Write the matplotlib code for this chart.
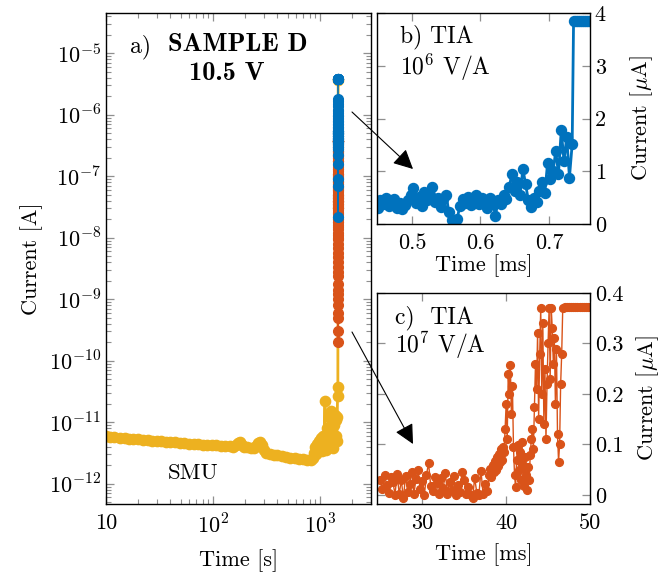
import numpy as np
import matplotlib.pyplot as plt
from matplotlib.patches import FancyArrowPatch
from matplotlib.ticker import FixedLocator, FixedFormatter, LogLocator, NullFormatter

# SMU trace (time in s, current in pA)
smu_time_s = [10, 11, 12, 13.5, 15, 16.5, 18, 20, 22, 24.5, 27, 30, 33, 36, 40, 44, 49, 54,
              60, 66, 73, 80, 88, 97, 107, 118, 130, 143, 155, 165, 172, 178, 185, 195, 210,
              225, 240, 255, 265, 275, 285, 298, 315, 340, 370, 400, 440, 480, 530, 580, 640,
              700, 760, 820, 860, 880, 900, 920, 940, 960, 980, 1000, 1020, 1040, 1060, 1080,
              1100, 1114, 1120, 1140, 1160, 1180, 1200, 1220, 1240, 1260, 1280, 1300, 1320,
              1340, 1360, 1380, 1400, 1420, 1440, 1450, 1460, 1470, 1480]
smu_current_pA = [5.9, 5.8, 5.75, 5.65, 5.55, 5.45, 5.4, 5.3, 5.2, 5.15, 5.05, 5.0, 4.9, 4.85,
                  4.75, 4.7, 4.6, 4.55, 4.5, 4.45, 4.4, 4.35, 4.3, 4.25, 4.2, 4.15, 4.1, 4.05,
                  4.0, 4.2, 4.6, 4.7, 4.3, 3.95, 3.9, 3.85, 3.8, 4.1, 4.6, 4.8, 4.3, 3.5, 3.2,
                  3.05, 2.95, 2.9, 2.8, 2.75, 2.65, 2.6, 2.55, 2.5, 2.45, 2.4, 2.6, 3.2, 4.0,
                  3.0, 4.5, 3.6, 5.0, 4.2, 5.5, 3.4, 6.0, 4.5, 5.2, 22, 5.0, 3.5, 8.0, 4.0, 6.5,
                  12, 4.5, 15, 7, 10, 3.8, 9, 5.5, 13, 6, 11, 5, 12, 27, 38, 3.6e6]

# time of the breakdown on the SMU time axis
breakdown_time_s = 1480

# TIA 1e6 V/A trace (time in ms, current in uA)
tia6_time_ms = [0.450, 0.454, 0.458, 0.462, 0.466, 0.470, 0.474, 0.478, 0.482, 0.486,
                0.490, 0.494, 0.498, 0.502, 0.506, 0.510, 0.514, 0.518, 0.522, 0.526,
                0.530, 0.534, 0.538, 0.542, 0.546, 0.550, 0.554, 0.558, 0.562, 0.566,
                0.570, 0.574, 0.578, 0.582, 0.586, 0.590, 0.594, 0.598, 0.602, 0.606,
                0.610, 0.614, 0.618, 0.622, 0.626, 0.630, 0.634, 0.638, 0.642, 0.646,
                0.650, 0.654, 0.658, 0.662, 0.666, 0.670, 0.674, 0.678, 0.682, 0.686,
                0.690, 0.694, 0.698, 0.702, 0.706, 0.710, 0.714, 0.718, 0.722, 0.726,
                0.730, 0.734, 0.736, 0.739, 0.742, 0.745, 0.748, 0.751, 0.754, 0.757,
                0.760, 0.763]
tia6_current_uA = [0.30, 0.45, 0.38, 0.50, 0.35, 0.42, 0.48, 0.30, 0.40, 0.28,
                   0.36, 0.45, 0.55, 0.68, 0.40, 0.52, 0.35, 0.60, 0.45, 0.55,
                   0.70, 0.42, 0.50, 0.32, 0.48, 0.55, 0.22, 0.07, 0.022, 0.09,
                   0.35, 0.48, 0.40, 0.52, 0.36, 0.45, 0.55, 0.38, 0.50, 0.42,
                   0.30, 0.50, 0.40, 0.16, 0.45, 0.38, 0.55, 0.48, 0.70, 0.95,
                   0.62, 0.80, 0.55, 1.05, 0.75, 0.45, 0.33, 0.50, 0.42, 0.62,
                   0.80, 0.58, 1.15, 0.85, 1.00, 1.38, 0.95, 1.78, 1.20, 1.65,
                   0.88, 1.52, 3.84, 3.84, 3.84, 3.84, 3.84, 3.84, 3.84, 3.84,
                   3.84, 3.84]

# TIA 1e7 V/A trace (time in ms, current in uA)
tia7_time_ms = [25.00, 25.25, 25.50, 25.75, 26.00, 26.25, 26.50, 26.75, 27.00, 27.25,
                27.50, 27.75, 28.00, 28.25, 28.50, 28.75, 29.00, 29.25, 29.50, 29.75,
                30.00, 30.25, 30.50, 30.75, 31.00, 31.25, 31.50, 31.75, 32.00, 32.25,
                32.50, 32.75, 33.00, 33.25, 33.50, 33.75, 34.00, 34.25, 34.50, 34.75,
                35.00, 35.25, 35.50, 35.75, 36.00, 36.25, 36.50, 36.75, 37.00, 37.25,
                37.50, 37.75,
                38.000, 38.125, 38.250, 38.375, 38.500, 38.625, 38.750, 38.875, 39.000, 39.125,
                39.250, 39.375, 39.500, 39.625, 39.750, 39.875, 40.000, 40.125, 40.250, 40.375,
                40.500, 40.625, 40.750, 40.875, 41.000, 41.125, 41.250, 41.375, 41.500, 41.625,
                41.750, 41.875, 42.000, 42.125, 42.250, 42.375, 42.500, 42.625, 42.750, 42.875,
                43.000, 43.125, 43.250, 43.375, 43.500, 43.625, 43.750, 43.875, 44.000, 44.125,
                44.250, 44.375, 44.500, 44.625, 44.750, 44.875, 45.000, 45.125, 45.250, 45.375,
                45.500, 45.625, 45.750, 45.875, 46.000, 46.125, 46.250, 46.375, 46.500, 46.625,
                46.750,
                47.00, 47.25, 47.50, 47.75, 48.00, 48.25, 48.50, 48.75, 49.00, 49.25,
                49.50, 49.75, 50.00]
tia7_current_uA = [0.030, 0.012, 0.040, 0.020, 0.0033, 0.035, 0.025, 0.0008, 0.042, 0.0010,
                   0.030, -0.007, 0.038, 0.0057, 0.022, 0.045, 0.0018, 0.032, 0.050, 0.0110,
                   0.028, 0.0005, 0.040, 0.063, 0.018, 0.0068, 0.036, 0.024, 0.0012, 0.033,
                   0.014, 0.044, 0.0028, 0.026, 0.0095, 0.038, 0.0002, 0.020, 0.0048, 0.046,
                   0.030, 0.0024, 0.016, 0.0006, -0.006, 0.034, 0.0040, 0.0003, 0.048, 0.0014,
                   0.022, 0.0080,
                   0.040, 0.052, 0.035, 0.060, 0.045, 0.068, 0.050, 0.075, 0.058, 0.082,
                   0.065, 0.090, 0.070, 0.095, 0.085, 0.130, 0.180, 0.110, 0.240, 0.200,
                   0.257, 0.160, 0.215, 0.095, 0.040, 0.015, 0.070, 0.098, 0.050, 0.085,
                   0.030, 0.105, 0.060, 0.018, 0.075, 0.040, 0.010, 0.055, 0.030, 0.080,
                   0.110, 0.130, 0.090, 0.175, 0.260, 0.210, 0.320, 0.150, 0.280, 0.370,
                   0.200, 0.340, 0.140, 0.250, 0.110, 0.220, 0.300, 0.370, 0.230, 0.370,
                   0.330, 0.260, 0.310, 0.180, 0.290, 0.120, 0.066, 0.100, 0.220, 0.280,
                   0.370,
                   0.372, 0.372, 0.372, 0.372, 0.372, 0.372, 0.372, 0.372, 0.372, 0.372,
                   0.372, 0.372, 0.372]

BLUE = '#0072BD'
ORANGE = '#D95319'
YELLOW = '#EDB120'
TICK_GREY = '#8f8f8f'

plt.rcParams['font.family'] = 'cmr10'
plt.rcParams['mathtext.fontset'] = 'cm'
plt.rcParams['axes.formatter.use_mathtext'] = True
plt.rcParams['font.size'] = 16


def style_axes(ax):
    ax.tick_params(which='both', direction='in', top=True, right=True,
                   color=TICK_GREY, labelsize=16)
    ax.tick_params(which='major', length=6, width=0.9)
    ax.tick_params(which='minor', length=3.5, width=0.8)
    ax.tick_params(axis='x', which='major', pad=7)
    for sp in ax.spines.values():
        sp.set_linewidth(1.0)


fig = plt.figure(figsize=(6.71, 5.77), dpi=100)
W, H = 671, 577


def box(left, top, right, bottom):
    return [left / W, 1 - bottom / H, (right - left) / W, (bottom - top) / H]


ax_a = fig.add_axes(box(106, 13, 371, 504))
ax_b = fig.add_axes(box(377, 13, 590, 224))
ax_c = fig.add_axes(box(377, 293, 590, 504))

smu_t = np.array(smu_time_s)
smu_i = np.array(smu_current_pA) * 1e-12
t6 = np.array(tia6_time_ms)
i6 = np.array(tia6_current_uA)
t7 = np.array(tia7_time_ms)
i7 = np.array(tia7_current_uA)

# a) overview on log-log axes
ax_a.plot(smu_t, smu_i, '-o', color=YELLOW, lw=2.0, ms=7.4)
pos7 = i7 > 0
ax_a.plot(breakdown_time_s + t7[pos7] / 1000, i7[pos7] * 1e-6, '-o', color=ORANGE, lw=1.2, ms=7)
pos6 = i6 > 0
ax_a.plot(breakdown_time_s + t6[pos6] / 1000, i6[pos6] * 1e-6, '-o', color=BLUE, lw=1.2, ms=7)
ax_a.set_xscale('log')
ax_a.set_yscale('log')
ax_a.set_xlim(10, 3000)
ax_a.set_ylim(4.7e-13, 4.5e-5)
ax_a.xaxis.set_major_locator(FixedLocator([10, 100, 1000]))
ax_a.xaxis.set_major_formatter(FixedFormatter(['10', r'$10^{2}$', r'$10^{3}$']))
ax_a.xaxis.set_minor_locator(LogLocator(base=10, subs=np.arange(2, 10), numticks=20))
ax_a.xaxis.set_minor_formatter(NullFormatter())
exps = list(range(-12, -4))
ax_a.yaxis.set_major_locator(FixedLocator([10.0 ** e for e in exps]))
ax_a.yaxis.set_major_formatter(FixedFormatter([rf'$10^{{{e}}}$' for e in exps]))
ax_a.yaxis.set_minor_locator(LogLocator(base=10, subs=np.arange(2, 10), numticks=20))
ax_a.yaxis.set_minor_formatter(NullFormatter())
style_axes(ax_a)
ax_a.set_xlabel('Time [s]', labelpad=8)
ax_a.set_ylabel('Current [A]', labelpad=4)
ax_a.text(0.09, 0.931, 'a)', transform=ax_a.transAxes, va='center', ha='left', fontsize=17)
ax_a.text(0.234, 0.935, 'SAMPLE D', transform=ax_a.transAxes, va='center', ha='left',
          fontsize=19, family='cmb10')
ax_a.text(0.457, 0.876, '10.5 V', transform=ax_a.transAxes, va='center', ha='center',
          fontsize=19, family='cmb10')
ax_a.text(0.234, 0.063, 'SMU', transform=ax_a.transAxes, va='center', ha='left', fontsize=16.5)

# b) TIA at 1e6 V/A
ax_b.plot(t6, i6, '-o', color=BLUE, lw=2.0, ms=7.2)
ax_b.set_xlim(0.449, 0.76)
ax_b.set_ylim(0, 4)
ax_b.xaxis.set_major_locator(FixedLocator([0.5, 0.6, 0.7]))
ax_b.xaxis.set_major_formatter(FixedFormatter(['0.5', '0.6', '0.7']))
ax_b.yaxis.set_major_locator(FixedLocator([0, 1, 2, 3, 4]))
ax_b.yaxis.set_major_formatter(FixedFormatter(['0', '1', '2', '3', '4']))
style_axes(ax_b)
ax_b.tick_params(labelleft=False, labelright=True)
ax_b.yaxis.set_label_position('right')
ax_b.set_ylabel(r'Current [$\mu$A]', labelpad=16)
ax_b.set_xlabel('Time [ms]', labelpad=1)
ax_b.text(0.108, 0.886, 'b) TIA', transform=ax_b.transAxes, va='center', ha='left', fontsize=17)
ax_b.text(0.108, 0.744, r'$10^6$ V/A', transform=ax_b.transAxes, va='center', ha='left', fontsize=17)

# c) TIA at 1e7 V/A
ax_c.plot(t7, i7, '-o', color=ORANGE, lw=1.0, ms=5.6)
ax_c.set_xlim(24.6, 50)
ax_c.set_ylim(-0.018, 0.4)
ax_c.xaxis.set_major_locator(FixedLocator([30, 40, 50]))
ax_c.xaxis.set_major_formatter(FixedFormatter(['30', '40', '50']))
ax_c.yaxis.set_major_locator(FixedLocator([0, 0.1, 0.2, 0.3, 0.4]))
ax_c.yaxis.set_major_formatter(FixedFormatter(['0', '0.1', '0.2', '0.3', '0.4']))
style_axes(ax_c)
ax_c.tick_params(labelleft=False, labelright=True)
ax_c.yaxis.set_label_position('right')
ax_c.set_ylabel(r'Current [$\mu$A]', labelpad=8)
ax_c.set_xlabel('Time [ms]', labelpad=7)
ax_c.text(0.085, 0.881, 'c)  TIA', transform=ax_c.transAxes, va='center', ha='left', fontsize=17)
ax_c.text(0.085, 0.754, r'$10^7$ V/A', transform=ax_c.transAxes, va='center', ha='left', fontsize=17)


# pointers from the overview into the zoomed panels
def fig_xy(px, py):
    return (px / W, 1 - py / H)


for start, end in [((352, 112), (413, 169)), ((352, 332), (413, 444))]:
    arrow = FancyArrowPatch(fig_xy(*start), fig_xy(*end), transform=fig.transFigure,
                            arrowstyle='-|>,head_length=0.8,head_width=0.4',
                            mutation_scale=15, lw=0.8, color='k',
                            shrinkA=0, shrinkB=0, zorder=10)
    fig.add_artist(arrow)

fig.savefig('out.png', dpi=100)
